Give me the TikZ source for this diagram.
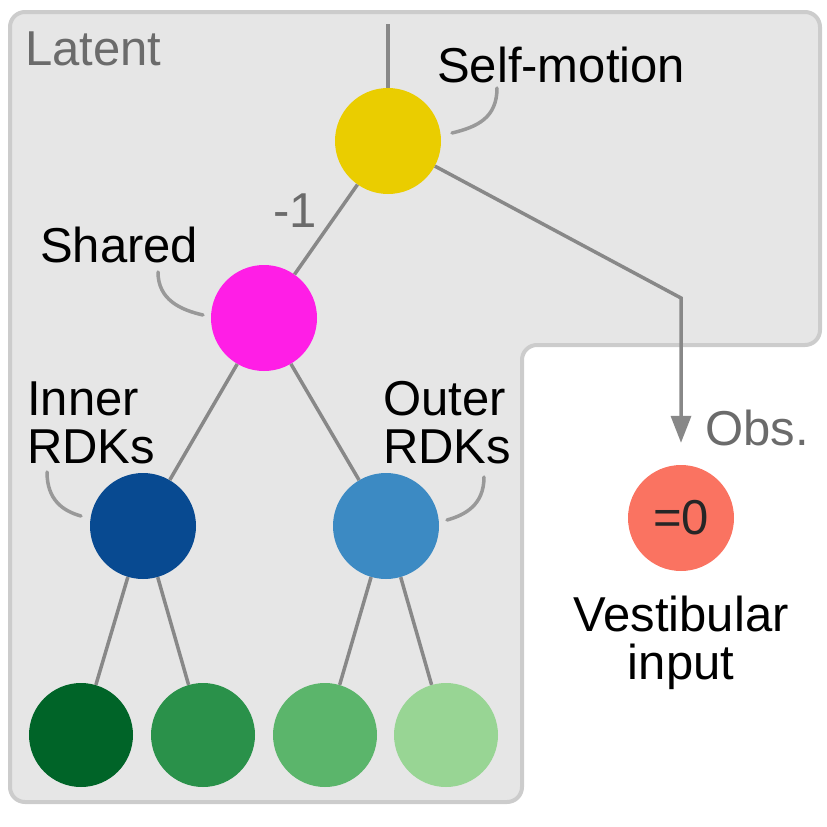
\documentclass[tikz,border=0pt]{standalone}
\usepackage{fontspec}
\setmainfont{Liberation Sans}
\usepackage{xcolor}
\usetikzlibrary{positioning,calc,arrows.meta}

\definecolor{boxfill}{HTML}{E6E6E6}
\definecolor{boxline}{HTML}{CCCCCC}
\definecolor{edgegray}{HTML}{888888}
\definecolor{leadgray}{HTML}{999999}
\definecolor{labgray}{HTML}{6B6B6B}
\definecolor{selfcol}{HTML}{EACD00}
\definecolor{sharedcol}{HTML}{FF1EE6}
\definecolor{innercol}{HTML}{084A91}
\definecolor{outercol}{HTML}{3C8AC3}
\definecolor{greena}{HTML}{006428}
\definecolor{greenb}{HTML}{2A914A}
\definecolor{greenc}{HTML}{5BB56B}
\definecolor{greend}{HTML}{98D594}
\definecolor{vestcol}{HTML}{FA7361}

\tikzset{
    var/.style={circle, minimum size=106pt, inner sep=0pt},
    leaf/.style={circle, minimum size=104pt, inner sep=0pt},
    edge/.style={draw=edgegray, line width=3.5pt},
    leader/.style={draw=leadgray, line width=3.5pt, line cap=round},
    lbl/.style={inner sep=0pt, font=\fontsize{49}{48}\selectfont, align=left},
    graylbl/.style={lbl, text=labgray},
}

\begin{document}
\begin{tikzpicture}[x=1pt, y=-1pt]
    \useasboundingbox (0,0) rectangle (827,827);
    % latent region
    \draw[fill=boxfill, draw=boxline, line width=4pt, rounded corners=15pt]
        (400,12) -- (820,12) -- (820,345) -- (522,345) -- (522,802) -- (10,802) -- (10,12) -- cycle;
    \node[graylbl, anchor=base west] (latent) at (25,65) {Latent};

    % variables
    \node[var, fill=selfcol] (selfm) at (388,141) {};
    \node[var, fill=sharedcol] (shared) at (264,318) {};
    \node[var, fill=innercol] (inner) at (143,526) {};
    \node[var, fill=outercol] (outer) at (386,526) {};
    \node[leaf, fill=greena] (g1) at (81,735) {};
    \node[leaf, fill=greenb] (g2) at (203,735) {};
    \node[leaf, fill=greenc] (g3) at (325,735) {};
    \node[leaf, fill=greend] (g4) at (446,735) {};
    \node[var, fill=vestcol, font=\fontsize{49}{48}\selectfont, text=black!85] (vest) at (681,518) {=0};

    % labels (base of a two-line label is its last line)
    \node[lbl, anchor=base west] (smlbl) at (437,82) {Self-motion};
    \node[lbl, anchor=base west] (shlbl) at (40,262) {Shared};
    \node[lbl, anchor=base west] (inlbl) at (27,463) {Inner\\RDKs};
    \node[lbl, anchor=base west] (outlbl) at (383,463) {Outer\\RDKs};
    \node[graylbl, anchor=base west] (wlbl) at (273,227) {-1};
    \node[graylbl, anchor=base west] (obslbl) at (705,445) {Obs.};
    \node[lbl, align=center, anchor=base] (vestlbl) at (681,679) {Vestibular\\input};

    % edges
    \coordinate (top) at (388,24);
    \coordinate (bend) at (681,298);
    \draw[edge] (top) -- (selfm);
    \draw[edge] (selfm) -- (shared);
    \draw[edge] (shared) -- (inner);
    \draw[edge] (shared) -- (outer);
    \draw[edge] (inner) -- (g1);
    \draw[edge] (inner) -- (g2);
    \draw[edge] (outer) -- (g3);
    \draw[edge] (outer) -- (g4);
    \draw[edge, -{Triangle[length=27pt, width=20pt]}, shorten >=22pt] (selfm) -- (bend) -- (vest);

    % leader lines
    \coordinate (sma) at (497,88);  \coordinate (smb) at (452,133);
    \coordinate (sha) at (158,272); \coordinate (shb) at (203,315);
    \coordinate (ina) at (47,472);  \coordinate (inb) at (81,516);
    \coordinate (oua) at (484,477); \coordinate (oub) at (447,520);
    \draw[leader] (sma) .. controls +(0,30) and +(25,-6) .. (smb);
    \draw[leader] (sha) .. controls +(0,28) and +(-22,-5) .. (shb);
    \draw[leader] (ina) .. controls +(0,28) and +(-18,-5) .. (inb);
    \draw[leader] (oua) .. controls +(0,28) and +(18,-5) .. (oub);
\end{tikzpicture}
\end{document}
